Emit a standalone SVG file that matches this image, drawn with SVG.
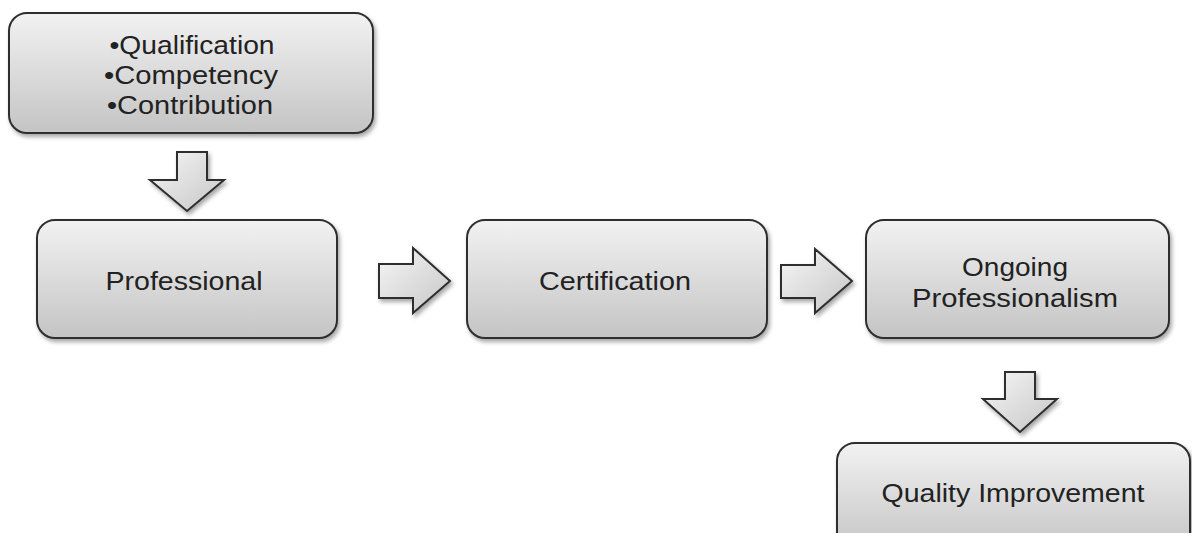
<svg xmlns="http://www.w3.org/2000/svg" width="1192" height="533" viewBox="0 0 1192 533">
<defs>
<linearGradient id="boxg" x1="0" y1="0" x2="0" y2="1">
<stop offset="0" stop-color="#f2f2f2"/>
<stop offset="1" stop-color="#c4c4c4"/>
</linearGradient>
<linearGradient id="arrg" x1="0" y1="0" x2="1" y2="1">
<stop offset="0" stop-color="#f6f6f6"/>
<stop offset="1" stop-color="#c6c6c6"/>
</linearGradient>
<filter id="sh" x="-10%" y="-10%" width="125%" height="130%">
<feDropShadow dx="2" dy="3" stdDeviation="2" flood-color="#000" flood-opacity="0.35"/>
</filter>
</defs>
<style>
.box{fill:url(#boxg);stroke:#2e2e2e;stroke-width:2;filter:url(#sh)}
.arr{fill:url(#arrg);stroke:#2e2e2e;stroke-width:2;stroke-linejoin:miter;filter:url(#sh)}
.t{font-family:"Liberation Sans",Arial,sans-serif;font-size:25px;fill:#222;text-anchor:middle}
</style>
<rect width="1192" height="533" fill="#fff"/>
<g id="connectors">
<path class="arr" d="M177,152 H207 V180 H224 L187,211 L150,180 H177 Z"/>
<path class="arr" d="M379,264 H413 V248 L450,281 L413,313 V298 H379 Z"/>
<path class="arr" d="M781,265 H815 V249 L852,281 L815,313 V298 H781 Z"/>
<path class="arr" d="M1005,372 H1035 V399 H1057 L1020,432 L983,399 H1005 Z"/>
</g>
<g id="node-criteria">
<rect class="box" x="9" y="13" width="364" height="120" rx="18"/>
<text class="t" x="192" y="54" textLength="165" lengthAdjust="spacingAndGlyphs">•Qualification</text>
<text class="t" x="191" y="84" textLength="174" lengthAdjust="spacingAndGlyphs">•Competency</text>
<text class="t" x="190" y="114" textLength="166" lengthAdjust="spacingAndGlyphs">•Contribution</text>
</g>
<g id="node-professional">
<rect class="box" x="37" y="220" width="300" height="118" rx="18"/>
<text class="t" x="184" y="290" textLength="157" lengthAdjust="spacingAndGlyphs">Professional</text>
</g>
<g id="node-certification">
<rect class="box" x="467" y="220" width="300" height="118" rx="18"/>
<text class="t" x="615" y="290" textLength="152" lengthAdjust="spacingAndGlyphs">Certification</text>
</g>
<g id="node-ongoing">
<rect class="box" x="866" y="220" width="303" height="118" rx="18"/>
<text class="t" x="1015" y="276" textLength="106" lengthAdjust="spacingAndGlyphs">Ongoing</text>
<text class="t" x="1015" y="307" textLength="206" lengthAdjust="spacingAndGlyphs">Professionalism</text>
</g>
<g id="node-quality">
<rect class="box" x="837" y="443" width="353" height="110" rx="18"/>
<text class="t" x="1013" y="502" textLength="263" lengthAdjust="spacingAndGlyphs">Quality Improvement</text>
</g>
</svg>
